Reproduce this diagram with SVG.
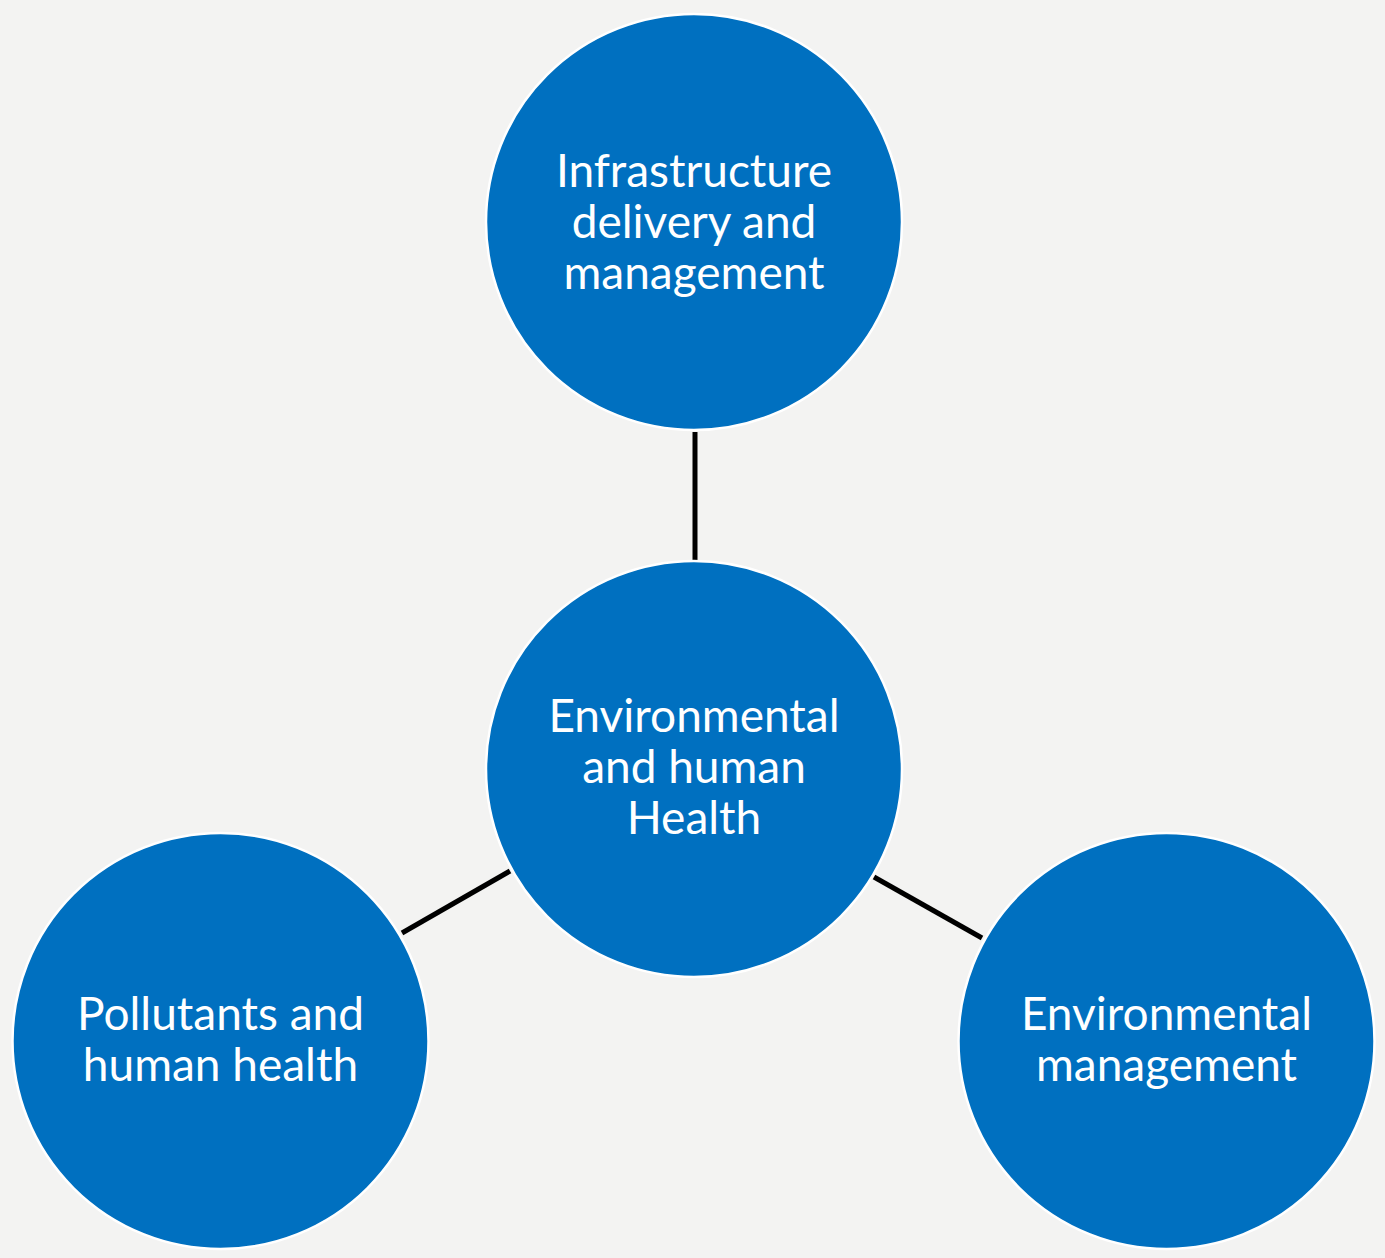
<svg xmlns="http://www.w3.org/2000/svg" width="1385" height="1258" viewBox="0 0 1385 1258">
<style>
.n{fill:#0070C0;stroke:#FFFFFF;stroke-width:2.5}
.t{font-family:Lato,"Open Sans",sans-serif;font-size:46px;fill:#FFFFFF;text-anchor:middle}
.c{stroke:#000000;stroke-width:5;fill:none}
</style>
<rect width="1385" height="1258" fill="#F3F3F2"/>
<g id="connectors">
<line class="c" x1="695" y1="432" x2="695" y2="560"/>
<line class="c" x1="402" y1="933" x2="510" y2="871"/>
<line class="c" x1="874" y1="877" x2="982" y2="938"/>
</g>
<g id="node-infra">
<circle class="n" cx="694" cy="222" r="208"/>
<text class="t" x="694" y="187">Infrastructure</text>
<text class="t" x="694" y="238">delivery and</text>
<text class="t" x="694" y="289">management</text>
</g>
<g id="node-center">
<circle class="n" cx="694" cy="769" r="208"/>
<text class="t" x="694" y="732">Environmental</text>
<text class="t" x="694" y="783">and human</text>
<text class="t" x="694" y="834">Health</text>
</g>
<g id="node-pollutants">
<circle class="n" cx="220.5" cy="1041" r="208"/>
<text class="t" x="220.5" y="1030">Pollutants and</text>
<text class="t" x="220.5" y="1081">human health</text>
</g>
<g id="node-envmgmt">
<circle class="n" cx="1166.5" cy="1041" r="208"/>
<text class="t" x="1166.5" y="1030">Environmental</text>
<text class="t" x="1166.5" y="1081">management</text>
</g>
</svg>
